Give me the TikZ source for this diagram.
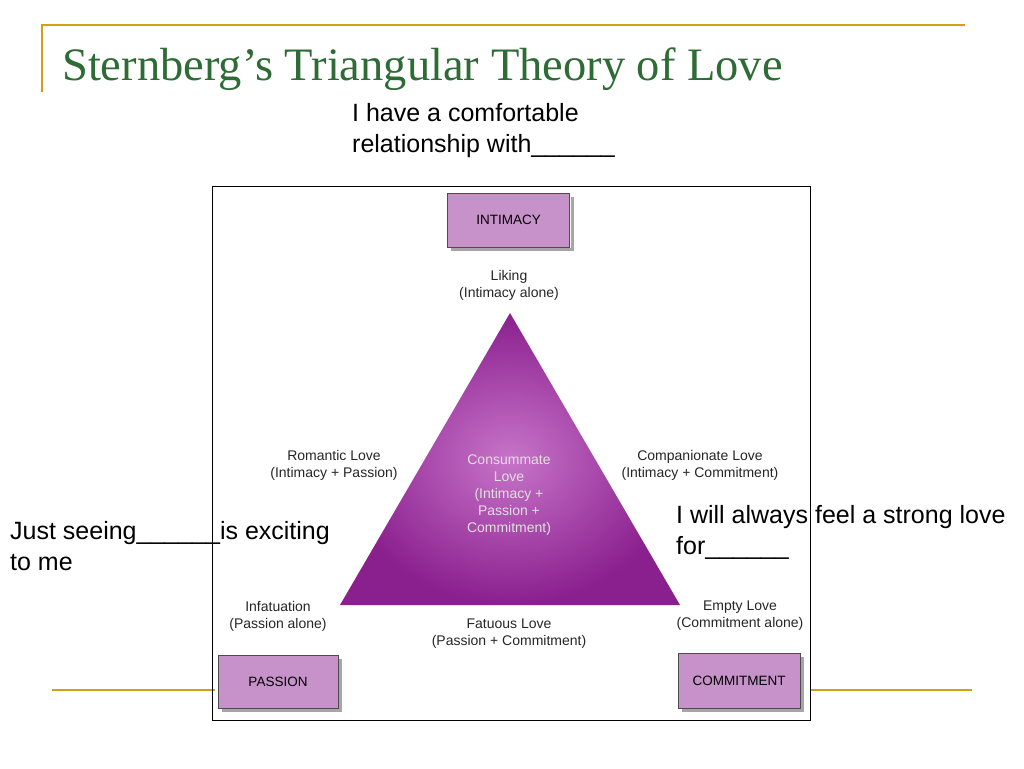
\documentclass[tikz,border=0pt]{standalone}
\usepackage{fontspec}
\setmainfont{Liberation Sans}
\newfontfamily\titlefont{Liberation Serif}
\definecolor{gold}{HTML}{D4A017}
\definecolor{tgreen}{HTML}{2E6B35}
\definecolor{boxpurple}{HTML}{C792C9}
\definecolor{tridark}{HTML}{8A1F8E}
\definecolor{trilight}{HTML}{C774C9}
\begin{document}
\begin{tikzpicture}[x=1pt,y=-1pt,
  goldline/.style={draw=gold,line width=1.5pt},
  cornerbox/.style={draw=black!70,fill=boxpurple,minimum width=122pt,minimum height=54pt,font=\fontsize{13.5}{16}\selectfont,inner sep=0pt},
  shadowline/.style={draw=gray!70,line width=3pt},
  lbl/.style={font=\fontsize{14}{17}\selectfont,align=center,text=black!85},
  bigtxt/.style={font=\fontsize{25}{31}\selectfont,align=left,anchor=north west,inner sep=0pt}]
\useasboundingbox (0,0) rectangle (1024,768);
\fill[white] (0,0) rectangle (1024,768);
% gold rules
\draw[goldline] (42,92) -- (42,25) -- (965,25);
\draw[goldline] (52,690) -- (215,690);
\draw[goldline] (810,690) -- (972,690);
% title
\node[anchor=base west,inner sep=0pt,text=tgreen,font=\titlefont\fontsize{46.5}{50}\selectfont] (title) at (62,80) {Sternberg’s Triangular Theory of Love};
% frame
\draw[black,line width=0.8pt] (212,186) rectangle (810,720);
% triangle
\shade[inner color=trilight,outer color=tridark] (510,313) -- (340,605) -- (680,605) -- cycle;
% corner boxes with shadows
\draw[shadowline] (451,249) -- (572,249) -- (572,197);
\node[cornerbox,minimum width=122pt] (int) at (508.5,220) {INTIMACY};
\draw[shadowline] (222,710) -- (340,710) -- (340,659);
\node[cornerbox,minimum width=120pt,minimum height=53pt] (pas) at (278,681.5) {PASSION};
\draw[shadowline] (682,710) -- (802,710) -- (802,657);
\node[cornerbox,minimum width=122pt,minimum height=55pt] (com) at (739,680.5) {COMMITMENT};
% labels
\node[lbl] (liking) at (509,285) {Liking\\(Intimacy alone)};
\node[lbl] (rom) at (334,465) {Romantic Love\\(Intimacy + Passion)};
\node[lbl] (compan) at (700,465) {Companionate Love\\(Intimacy + Commitment)};
\node[lbl,text=white!88!black] (cons) at (509,495) {Consummate\\Love\\(Intimacy +\\Passion +\\Commitment)};
\node[lbl] (inf) at (278,616) {Infatuation\\(Passion alone)};
\node[lbl] (fat) at (509,634) {Fatuous Love\\(Passion + Commitment)};
\node[lbl] (empty) at (740,616) {Empty Love\\(Commitment alone)};
% big captions
\node[bigtxt] (q1) at (352,103) {I have a comfortable\\relationship with\_\_\_\_\_\_};
\node[bigtxt] (q2) at (676,505) {I will always feel a strong love\\for\_\_\_\_\_\_};
\node[bigtxt] (q3) at (10,521) {Just seeing\_\_\_\_\_\_is exciting\\to me};
\end{tikzpicture}
\end{document}
